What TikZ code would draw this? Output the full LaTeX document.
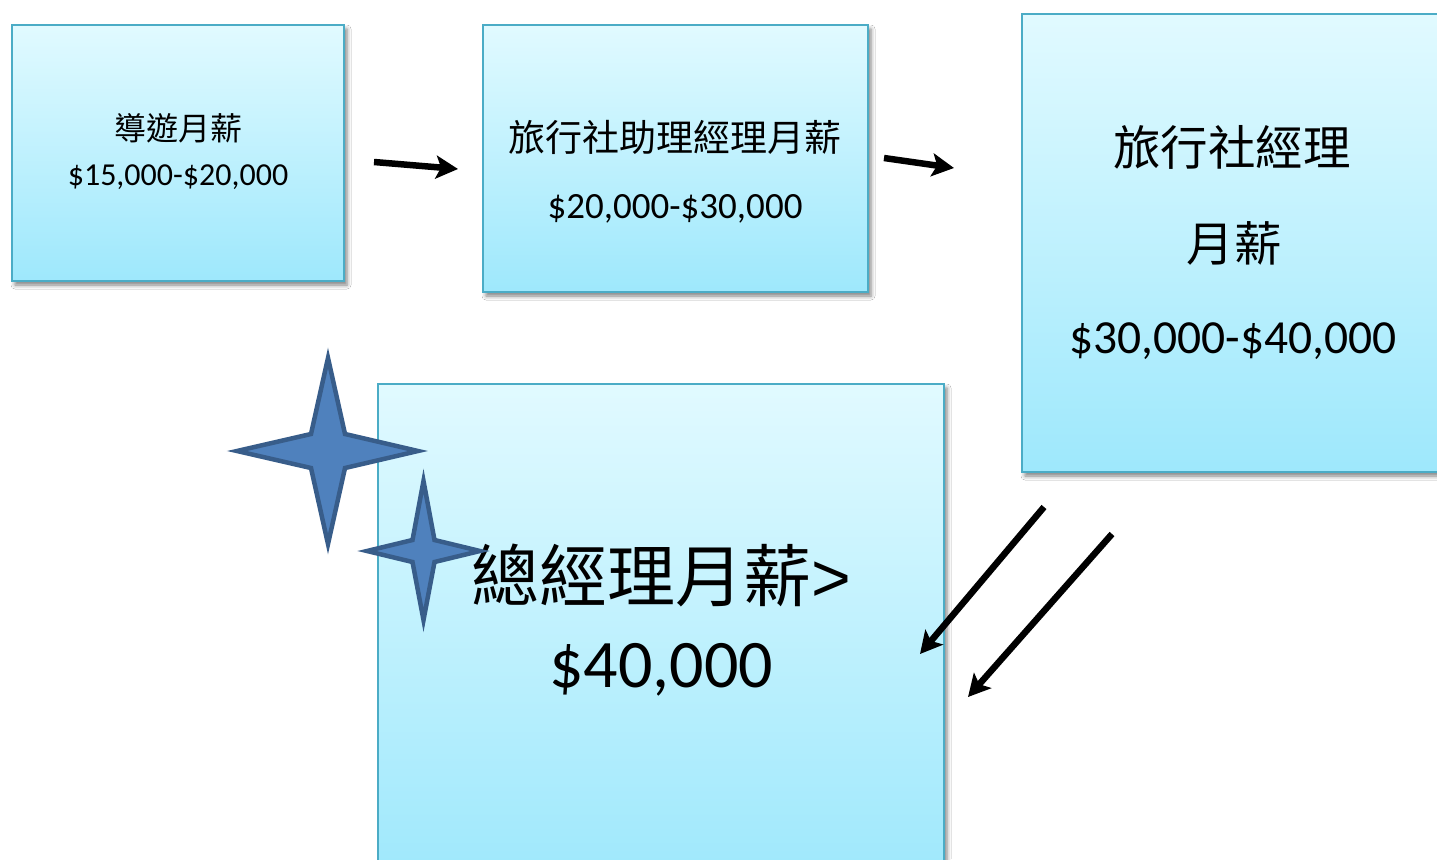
\documentclass[tikz,border=0pt]{standalone}
\usepackage{fontspec}
\setmainfont{Carlito}
\newfontfamily\cjk{Noto Sans CJK TC}
\newfontfamily\gtfont{Liberation Sans}
\usetikzlibrary{arrows.meta,shadows.blur}
\definecolor{boxtop}{RGB}{225,250,255}
\definecolor{boxbot}{RGB}{158,232,252}
\definecolor{boxedge}{RGB}{75,172,198}
\definecolor{starfill}{RGB}{79,129,189}
\definecolor{staredge}{RGB}{56,93,138}
\tikzset{
  salbox/.style={draw=boxedge, line width=2pt, top color=boxtop, bottom color=boxbot,
    rectangle, inner sep=0pt,
    blur shadow={shadow xshift=3pt, shadow yshift=-4pt, shadow blur radius=4pt, shadow opacity=50}},
  lbl/.style={inner sep=0pt, text=black},
  fa/.style={lbl, font=\fontsize{32}{38}\selectfont},
  fb/.style={lbl, font=\fontsize{37}{44}\selectfont},
  fc/.style={lbl, font=\fontsize{47.5}{56}\selectfont},
  fd/.style={lbl, font=\fontsize{68}{80}\selectfont},
  bigarrow/.style={line width=6.5pt, -{Stealth[length=22pt,width=23pt,inset=5pt]}},
  starshape/.style={fill=starfill, draw=staredge, line width=4.5pt, line join=miter}
}
\begin{document}
\begin{tikzpicture}[x=1pt,y=-1pt]
\clip (0,0) rectangle (1437,859);
\fill[white] (0,0) rectangle (1437,859);
% boxes
\node[salbox, minimum width=332pt, minimum height=256pt] (b1) at (178,153) {};
\node[salbox, minimum width=385pt, minimum height=267pt] (b2) at (675.5,158.5) {};
\node[salbox, minimum width=422pt, minimum height=458pt] (b3) at (1233,243) {};
\node[salbox, minimum width=566pt, minimum height=500pt] (b4) at (661,634) {};
% texts
\node[fa] (t1a) at (178,128) {\cjk 導遊月薪};
\node[fa] (t1b) at (178,177) {\$15,000-\$20,000};
\node[fb] (t2a) at (675,137) {\cjk 旅行社助理經理月薪};
\node[fb] (t2b) at (675,209) {\$20,000-\$30,000};
\node[fc] (t3a) at (1232,147) {\cjk 旅行社經理};
\node[fc] (t3b) at (1234,243) {\cjk 月薪};
\node[fc] (t3c) at (1233,341) {\$30,000-\$40,000};
\node[fd] (t4a) at (661,575) {{\cjk 總經理月薪}{\gtfont >}};
\node[fd] (t4b) at (661,670) {\$40,000};
% arrows
\coordinate (a1s) at (374,162); \coordinate (a1e) at (458,169);
\coordinate (a2s) at (884,158); \coordinate (a2e) at (954,168);
\coordinate (a3s) at (1044,507); \coordinate (a3e) at (920,654);
\coordinate (a4s) at (1112,534); \coordinate (a4e) at (968,697);
\draw[bigarrow] (a1s) -- (a1e);
\draw[bigarrow] (a2s) -- (a2e);
\draw[bigarrow] (a3s) -- (a3e);
\draw[bigarrow] (a4s) -- (a4e);
% stars
\draw[starshape] (328,358) -- (345,434) -- (418,451) -- (345,468) -- (328,544)
  -- (311,468) -- (237,451) -- (311,434) -- cycle;
\draw[starshape] (423.5,481) -- (434.5,540) -- (480,551) -- (434.5,562) -- (423.5,620)
  -- (412.5,562) -- (367,551) -- (412.5,540) -- cycle;
\end{tikzpicture}
\end{document}
